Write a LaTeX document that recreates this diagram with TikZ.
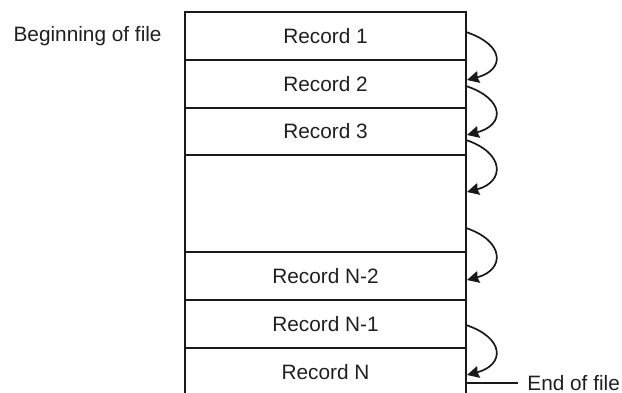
\documentclass[tikz,border=0pt]{standalone}
\usepackage{fontspec}
\setmainfont{Liberation Sans}
\usetikzlibrary{arrows.meta,positioning}

\begin{document}
\begin{tikzpicture}[x=0.5pt,y=-0.5pt,
  every node/.style={font=\fontsize{10.4}{12}\selectfont,text=black!88,inner sep=0pt},
  recordbox/.style={draw=black!90,line width=1pt,minimum width=140.5pt,minimum height=24pt},
  nextarrow/.style={black!90,line width=0.85pt,-{Stealth[length=6pt,width=6pt,inset=0.6pt]}}]
\useasboundingbox (0,0) rectangle (622,392);
\clip (0,0) rectangle (622,392);
% records, top to bottom
\node[recordbox] (r1) at (325.5,36) {Record 1};
\node[recordbox] (r2) at (325.5,84) {Record 2};
\node[recordbox,minimum height=23.5pt] (r3) at (325.5,131.5) {Record 3};
\node[recordbox,minimum height=48.5pt] (gap) at (325.5,203.5) {};
\node[recordbox] (rn2) at (325.5,276) {Record N-2};
\node[recordbox] (rn1) at (325.5,324) {Record N-1};
\node[recordbox] (rn) at (325.5,372) {Record N};
% labels
\node[left=11pt of r1] (bof) {Beginning of file};
\coordinate (eof) at (466,383);
\node[anchor=west,inner xsep=4.5pt] (end) at (518,383) {End of file};
\draw[black!90,line width=0.8pt] (eof) -- (end.west);
% arrow ends on the right edge
\coordinate (a1) at (466,32);  \coordinate (b1) at (467,80);
\coordinate (a2) at (466,86);  \coordinate (b2) at (467,135);
\coordinate (a3) at (466,140); \coordinate (b3) at (467,192);
\coordinate (a4) at (466,228); \coordinate (b4) at (467,280);
\coordinate (a5) at (466,325); \coordinate (b5) at (467,375);
\foreach \i in {1,...,5}
  \draw[nextarrow] (a\i) .. controls +(39,13) and +(38,-10) .. (b\i);
\end{tikzpicture}
\end{document}
